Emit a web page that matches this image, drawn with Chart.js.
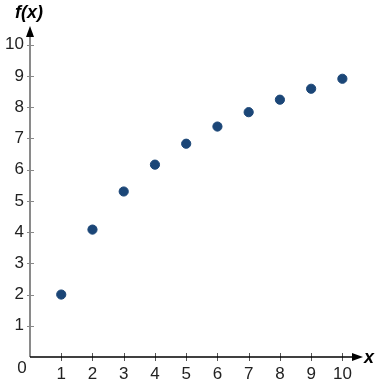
<!DOCTYPE html>
<html>
<head>
<meta charset="UTF-8">
<script src="https://cdn.jsdelivr.net/npm/chart.js"></script>
<style>
  html, body { margin: 0; padding: 0; background: #fff; }
  #wrap { width: 377px; height: 383px; position: relative; }
</style>
</head>
<body>
<div id="wrap"><canvas id="chart"></canvas></div>
<script>
// data
const xValues = [1, 2, 3, 4, 5, 6, 7, 8, 9, 10];
const yValues = [2, 4.08, 5.3, 6.16, 6.83, 7.38, 7.84, 8.24, 8.59, 8.91];
const xTicks = [1, 2, 3, 4, 5, 6, 7, 8, 9, 10];
const yTicks = [1, 2, 3, 4, 5, 6, 7, 8, 9, 10];

const points = xValues.map((x, i) => ({ x: x, y: yValues[i] }));
const FONT = '"Liberation Sans", Arial, sans-serif';

// axes with arrows, crossing tick marks and the extra labels
const axesPlugin = {
  id: 'axes',
  afterDraw(chart) {
    const c = chart.ctx;
    const xs = chart.scales.x, ys = chart.scales.y;
    const x0 = xs.getPixelForValue(0), y0 = ys.getPixelForValue(0);
    const xEnd = chart.chartArea.right, yEnd = chart.chartArea.top;
    c.save();
    // tick marks
    c.lineWidth = 1;
    c.strokeStyle = '#555';
    xTicks.forEach(v => {
      const p = Math.round(xs.getPixelForValue(v)) + 0.5;
      c.beginPath(); c.moveTo(p, y0 - 4); c.lineTo(p, y0 + 4); c.stroke();
    });
    c.strokeStyle = '#888';
    yTicks.forEach(v => {
      const p = Math.round(ys.getPixelForValue(v)) + 0.5;
      c.beginPath(); c.moveTo(x0 - 3, p); c.lineTo(x0 + 4, p); c.stroke();
    });
    // y axis (gray)
    c.strokeStyle = '#8a8a8a';
    c.lineWidth = 2;
    c.beginPath(); c.moveTo(x0, y0); c.lineTo(x0, yEnd + 6); c.stroke();
    // x axis (black)
    c.strokeStyle = '#000';
    c.lineWidth = 1.3;
    c.beginPath(); c.moveTo(x0, y0); c.lineTo(xEnd - 6, y0); c.stroke();
    // arrow heads
    c.fillStyle = '#000';
    c.beginPath(); c.moveTo(xEnd, y0); c.lineTo(xEnd - 11, y0 - 4); c.lineTo(xEnd - 11, y0 + 4); c.closePath(); c.fill();
    c.beginPath(); c.moveTo(x0, yEnd); c.lineTo(x0 - 4, yEnd + 11); c.lineTo(x0 + 4, yEnd + 11); c.closePath(); c.fill();
    // labels
    c.fillStyle = '#222';
    c.font = '17px ' + FONT;
    c.textAlign = 'center'; c.textBaseline = 'middle';
    c.fillText('0', x0 - 8, y0 + 11);
    c.fillStyle = '#000';
    c.font = 'italic bold 18px ' + FONT;
    c.fillText('f(x)', x0 - 1, 13);
    c.textAlign = 'left';
    c.fillText('x', xEnd + 1, y0 + 1);
    c.restore();
  }
};

new Chart(document.getElementById('chart'), {
  type: 'scatter',
  data: {
    datasets: [{
      data: points,
      backgroundColor: '#1b4677',
      borderColor: '#1b4677',
      pointRadius: 4.6,
      pointHoverRadius: 4.6
    }]
  },
  options: {
    responsive: true,
    maintainAspectRatio: false,
    animation: false,
    layout: { padding: { top: 26, right: 14, left: 0, bottom: 0 } },
    plugins: { legend: { display: false }, tooltip: { enabled: false } },
    scales: {
      x: {
        type: 'linear',
        min: 0,
        max: 10.66,
        afterFit: s => { s.height = 26; },
        afterBuildTicks: s => { s.ticks = xTicks.map(v => ({ value: v })); },
        grid: { display: false, drawTicks: false },
        border: { display: false },
        ticks: { color: '#222', font: { size: 17, family: FONT }, padding: 7, autoSkip: false, maxRotation: 0 }
      },
      y: {
        type: 'linear',
        min: 0,
        max: 10.6,
        afterFit: s => { s.width = 30; },
        afterBuildTicks: s => { s.ticks = yTicks.map(v => ({ value: v })); },
        grid: { display: false, drawTicks: false },
        border: { display: false },
        ticks: { color: '#222', font: { size: 17, family: FONT }, padding: 6, autoSkip: false }
      }
    }
  },
  plugins: [axesPlugin]
});
</script>
</body>
</html>
